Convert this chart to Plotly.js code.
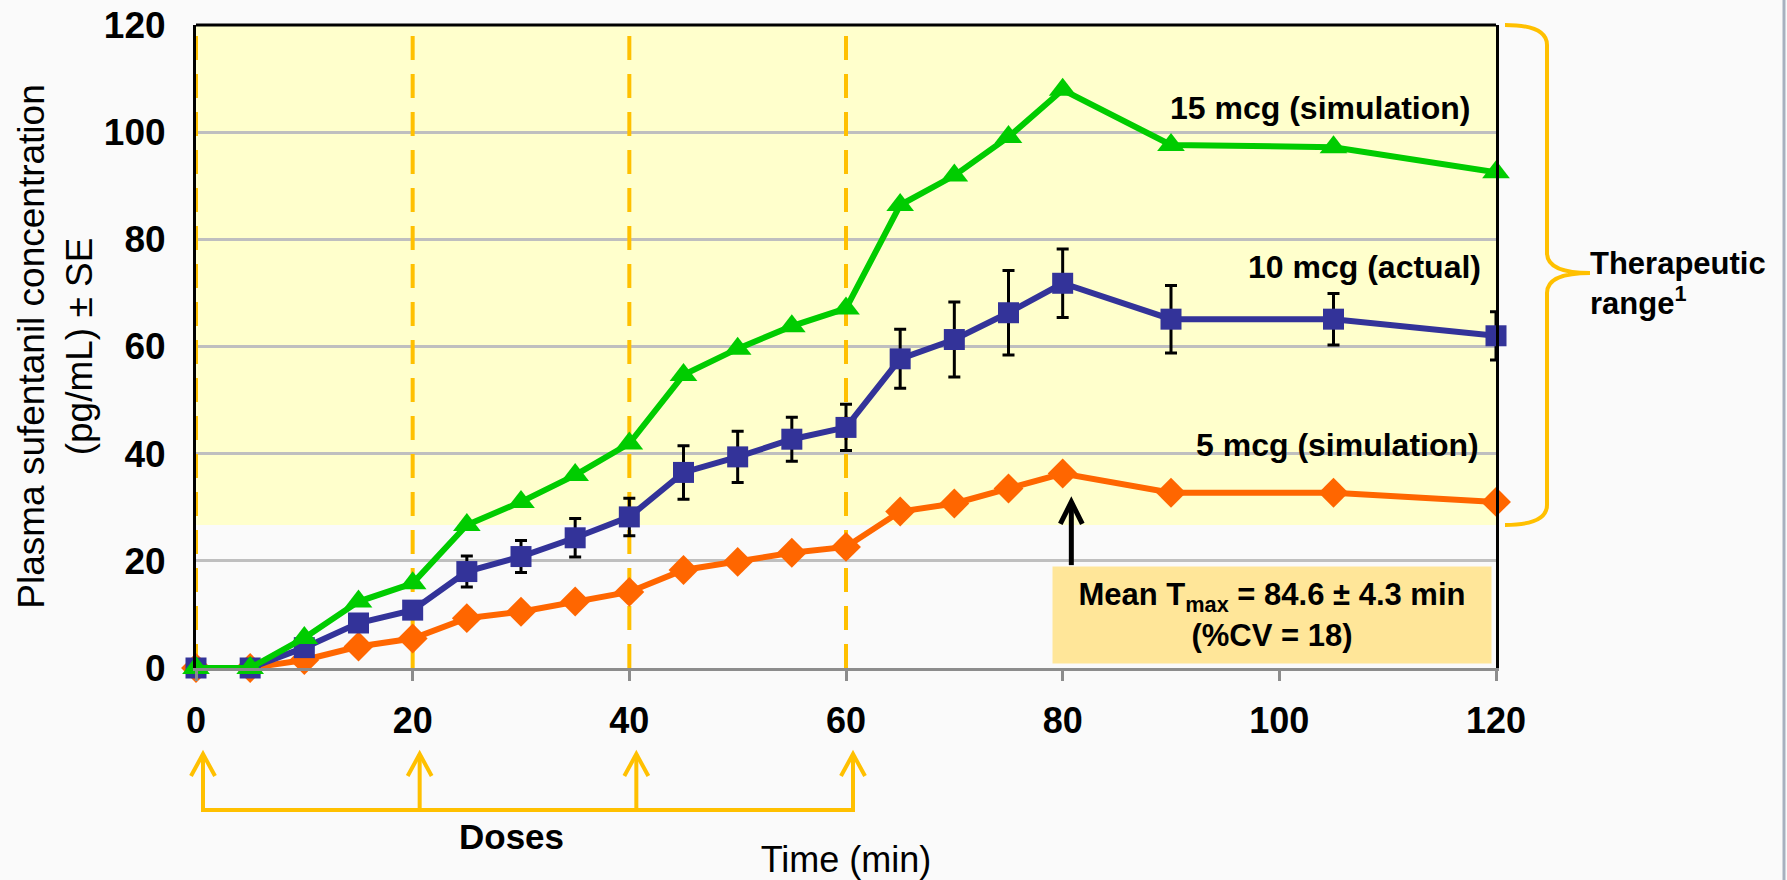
<!DOCTYPE html>
<html>
<head>
<meta charset="utf-8">
<script src="https://cdn.plot.ly/plotly-3.0.1.min.js"></script>
<style>
  html, body { margin: 0; padding: 0; background: #FAFAFA; }
  #chart { width: 1787px; height: 880px; }
</style>
</head>
<body>
<div id="chart"></div>
<script>
// ---- data ----
const timeMin = [0, 5, 10, 15, 20, 25, 30, 35, 40, 45, 50, 55, 60, 65, 70, 75, 80, 90, 105, 120];
const conc5mcg  = [0, 0, 1.5, 4.0, 5.5, 9.3, 10.5, 12.4, 14.2, 18.3, 19.8, 21.5, 22.6, 29.2, 30.7, 33.5, 36.3, 32.7, 32.7, 31.0];
const conc10mcg = [0, 0, 3.8, 8.4, 10.8, 18.0, 20.8, 24.3, 28.2, 36.5, 39.4, 42.7, 44.9, 57.7, 61.3, 66.3, 71.8, 65.1, 65.1, 62.0];
const se10mcg   = [0, 0, 0.8, 1.2, 1.2, 2.9, 3.0, 3.6, 3.5, 5.0, 4.8, 4.1, 4.3, 5.5, 7.0, 7.9, 6.4, 6.3, 4.8, 4.5];
const conc15mcg = [0, 0, 5.6, 12.4, 15.8, 26.7, 31.0, 36.0, 41.9, 54.7, 59.6, 63.8, 67.1, 86.4, 91.9, 99.1, 107.9, 97.6, 97.2, 92.5];
const seriesNames = ['5 mcg (simulation)', '10 mcg (actual)', '15 mcg (simulation)'];
const doseTimes = [0, 20, 40, 60];
const therapeuticRange = [26.7, 120];
const tmaxText = 'Mean T<sub>max</sub> = 84.6 ± 4.3 min<br>(%CV = 18)';
const tmaxArrow = { x: 80.8, yTail: 19.2, yTip: 31.0 };
const xTicks = [0, 20, 40, 60, 80, 100, 120];
const yTicks = [0, 20, 40, 60, 80, 100, 120];

// ---- styling ----
const FONT = 'Arial, "Liberation Sans", sans-serif';
const GOLD = '#FFC000';
const M = { l: 196, r: 291, t: 25, b: 212 };
const W = 1787, H = 880;
const PW = W - M.l - M.r, PH = H - M.t - M.b;
const px2paperX = px => (px - M.l) / PW;
const px2paperY = py => (H - M.b - py) / PH;
const pxPerX = PW / 120, pxPerY = PH / 120;

const traces = [
  {
    x: timeMin, y: conc5mcg, name: seriesNames[0], type: 'scatter', mode: 'lines+markers',
    line: { color: '#FF6600', width: 6 },
    marker: { symbol: 'diamond', size: 23, color: '#FF6600' },
    cliponaxis: false
  },
  {
    x: timeMin, y: conc10mcg, name: seriesNames[1], type: 'scatter', mode: 'lines+markers',
    line: { color: '#333399', width: 6 },
    marker: { symbol: 'square', size: 21, color: '#333399' },
    error_y: { type: 'data', array: se10mcg, visible: true, color: '#000000', thickness: 3, width: 6 },
    cliponaxis: false
  },
  {
    x: timeMin, y: conc15mcg, name: seriesNames[2], type: 'scatter', mode: 'lines+markers',
    line: { color: '#00CC00', width: 6 },
    marker: { symbol: 'triangle-up', size: 24, color: '#00CC00' },
    cliponaxis: false
  }
];

const shapes = [
  // therapeutic range shading
  { type: 'rect', xref: 'x', yref: 'y', x0: 0, x1: 120, y0: therapeuticRange[0], y1: therapeuticRange[1],
    fillcolor: '#FFFFCC', line: { width: 0 }, layer: 'below' },
  // top border
  { type: 'line', xref: 'paper', yref: 'paper', x0: 0, x1: 1, y0: 1, y1: 1,
    line: { color: '#000000', width: 3 } }
];
// dashed dose lines
doseTimes.forEach(t => shapes.push({
  type: 'line', xref: 'x', yref: 'y', x0: t, x1: t, y0: 0, y1: 120,
  line: { color: GOLD, width: 4, dash: '24px,14px' }, layer: 'between'
}));

// doses bracket with upward open arrows
const doseShift = 7;
const bracketY = px2paperY(810);
const tipY = px2paperY(754);
const headW = 12 / PW, headH = 22 / PH;
shapes.push({
  type: 'line', xref: 'paper', yref: 'paper',
  x0: doseTimes[0] / 120 + doseShift / PW - 2 / PW, x1: doseTimes[doseTimes.length - 1] / 120 + doseShift / PW + 2 / PW,
  y0: bracketY, y1: bracketY, line: { color: GOLD, width: 4 }
});
doseTimes.forEach(t => {
  const xp = t / 120 + doseShift / PW;
  shapes.push({ type: 'line', xref: 'paper', yref: 'paper', x0: xp, x1: xp, y0: bracketY, y1: tipY,
    line: { color: GOLD, width: 4 } });
  shapes.push({ type: 'path', xref: 'paper', yref: 'paper',
    path: 'M' + (xp - headW) + ',' + (tipY - headH) + ' L' + xp + ',' + tipY + ' L' + (xp + headW) + ',' + (tipY - headH),
    line: { color: GOLD, width: 4 }, fillcolor: 'rgba(0,0,0,0)' });
});

// Tmax arrow (black, open head)
(function () {
  const a = tmaxArrow;
  const hw = 11 / pxPerX, hh = 22 / pxPerY;
  shapes.push({ type: 'line', xref: 'x', yref: 'y', x0: a.x, x1: a.x, y0: a.yTail, y1: a.yTip - 0.3,
    line: { color: '#000000', width: 5 } });
  shapes.push({ type: 'path', xref: 'x', yref: 'y',
    path: 'M' + (a.x - hw) + ',' + (a.yTip - hh) + ' L' + a.x + ',' + a.yTip + ' L' + (a.x + hw) + ',' + (a.yTip - hh),
    line: { color: '#000000', width: 5 }, fillcolor: 'rgba(0,0,0,0)' });
})();

// curly brace for therapeutic range
(function () {
  const yTop = therapeuticRange[1] / 120, yBot = therapeuticRange[0] / 120;
  const yMid = px2paperY(273);
  const xe = px2paperX(1505), xv = px2paperX(1547), xt = px2paperX(1590);
  const dy = 20 / PH;
  const p = (a, b) => a.toFixed(5) + ',' + b.toFixed(5);
  const path = 'M' + p(xe, yTop) + ' Q' + p(xv, yTop) + ' ' + p(xv, yTop - dy) +
    ' L' + p(xv, yMid + dy) + ' Q' + p(xv, yMid) + ' ' + p(xt, yMid) +
    ' Q' + p(xv, yMid) + ' ' + p(xv, yMid - dy) +
    ' L' + p(xv, yBot + dy) + ' Q' + p(xv, yBot) + ' ' + p(xe, yBot);
  shapes.push({ type: 'path', xref: 'paper', yref: 'paper', path: path,
    line: { color: GOLD, width: 4 }, fillcolor: 'rgba(0,0,0,0)' });
})();
// slide border at far right
shapes.push({ type: 'line', xref: 'paper', yref: 'paper',
  x0: px2paperX(1784), x1: px2paperX(1784), y0: px2paperY(0), y1: px2paperY(880),
  line: { color: '#A7B1BF', width: 3 } });

const labelFont = { family: FONT, size: 32, color: '#000000', weight: 'bold' };
const annotations = [
  { x: 117.9, y: 104.6, xref: 'x', yref: 'y', text: seriesNames[2], showarrow: false, xanchor: 'right', yanchor: 'middle', font: labelFont },
  { x: 118.8, y: 74.8, xref: 'x', yref: 'y', text: seriesNames[1], showarrow: false, xanchor: 'right', yanchor: 'middle', font: labelFont },
  { x: 118.6, y: 41.6, xref: 'x', yref: 'y', text: seriesNames[0], showarrow: false, xanchor: 'right', yanchor: 'middle', font: labelFont },
  // Tmax box
  { x: 99.35, y: 9.9, xref: 'x', yref: 'y', text: tmaxText, showarrow: false, xanchor: 'center', yanchor: 'middle',
    width: 438, height: 96, bgcolor: '#FFE699', borderpad: 0, align: 'center',
    font: { family: FONT, size: 31, color: '#000', weight: 'bold' } },
  // Therapeutic range label
  { x: px2paperX(1588), y: px2paperY(284), xref: 'paper', yref: 'paper', text: 'Therapeutic<br>range<sup>1</sup>',
    showarrow: false, xanchor: 'left', yanchor: 'middle', align: 'left', font: { family: FONT, size: 31, color: '#000', weight: 'bold' } },
  // Doses label
  { x: 29.1, y: px2paperY(836), xref: 'x', yref: 'paper', text: 'Doses', showarrow: false, xanchor: 'center', yanchor: 'middle',
    font: { family: FONT, size: 35, color: '#000', weight: 'bold' } }
];

const layout = {
  width: W, height: H,
  margin: M,
  paper_bgcolor: '#FAFAFA',
  plot_bgcolor: '#FAFAFA',
  showlegend: false,
  font: { family: FONT, color: '#000000' },
  xaxis: {
    range: [0, 120], tickvals: xTicks, ticktext: xTicks.map(String),
    showgrid: false, zeroline: false,
    showline: true, linecolor: '#8C8C8C', linewidth: 3,
    ticks: 'outside', ticklen: 10, tickwidth: 3, tickcolor: '#8C8C8C',
    tickfont: { family: FONT, size: 36, color: '#000', weight: 'bold' },
    ticklabelstandoff: 9,
    title: { text: 'Time (min)', font: { family: FONT, size: 36, color: '#000' }, standoff: 111 },
    automargin: false
  },
  yaxis: {
    range: [0, 120], tickvals: yTicks, ticktext: yTicks.map(String),
    showgrid: true, gridcolor: '#BFBFBF', gridwidth: 3, zeroline: false,
    showline: true, linecolor: '#000000', linewidth: 3, mirror: true,
    ticks: '', tickfont: { family: FONT, size: 37, color: '#000', weight: 'bold' },
    ticklabelstandoff: 20,
    title: { text: 'Plasma sufentanil concentration<br>(pg/mL) ± SE', font: { family: FONT, size: 37, color: '#000' }, standoff: 0 },
    automargin: false
  },
  shapes: shapes,
  annotations: annotations
};

Plotly.newPlot('chart', traces, layout, { displayModeBar: false, staticPlot: true });
</script>
</body>
</html>
